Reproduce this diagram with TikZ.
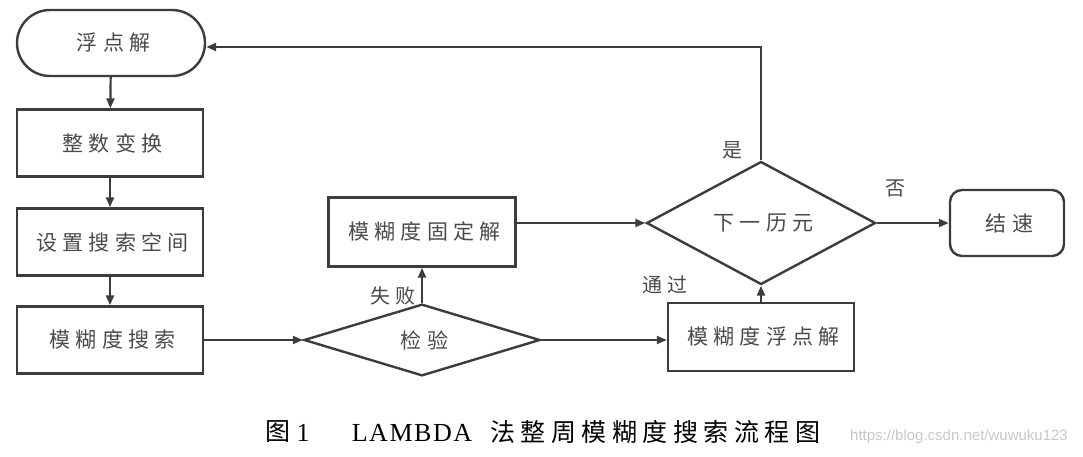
\documentclass[tikz,border=0pt]{standalone}
\usepackage{fontspec}
\setmainfont{Liberation Serif}
\newfontfamily\cjk[LetterSpace=25]{Noto Sans CJK SC}
\newfontfamily\cjkcap[LetterSpace=22]{Noto Sans CJK SC}
\newfontfamily\capfont[LetterSpace=6]{Liberation Serif}
\newfontfamily\wmfont{Liberation Sans}
\usetikzlibrary{shapes.geometric,shapes.misc,arrows.meta}
\definecolor{ln}{HTML}{3C3C3C}
\definecolor{tx}{HTML}{4A4A4A}
\newcommand{\ls}{\kern5pt}
\begin{document}
\begin{tikzpicture}[x=1pt,y=-1pt,
  base/.style={draw=ln, line width=2.4pt, inner sep=0pt, text=tx,
    font=\cjk\fontsize{21}{21}\selectfont},
  box/.style={base, rectangle, minimum width=186pt, minimum height=67pt},
  term/.style={base, rounded rectangle, minimum width=188pt, minimum height=66pt},
  endbox/.style={base, rectangle, rounded corners=12pt, minimum width=114pt, minimum height=66pt},
  dia/.style={base, diamond},
  lbl/.style={inner sep=0pt, text=tx, font=\cjk\fontsize{20}{20}\selectfont},
  captxt/.style={inner sep=0pt, text=black},
  arr/.style={draw=ln, line width=2.2pt, -{Triangle[length=10pt,width=8pt]}}
]
\useasboundingbox (0,0) rectangle (1083,456);

\node[term] (fp) at (111,43) {\ls 浮点解};
\node[box] (zs) at (110,143) {\ls 整数变换};
\node[box] (sz) at (110,242) {\ls 设置搜索空间};
\node[box] (ss) at (110,340) {\ls 模糊度搜索};
\node[dia, minimum width=236pt, minimum height=66pt] (jy) at (422,340) {\ls 检验};
\node[box, minimum width=187pt, minimum height=69pt] (gd) at (422,232) {\ls 模糊度固定解};
\node[box, minimum width=186pt, minimum height=68pt] (fd) at (761,337) {\ls 模糊度浮点解};
\node[dia, minimum width=229pt, minimum height=80pt] (xy) at (761,223) {\ls 下一历元};
\node[endbox] (js) at (1007,223) {\ls 结速};

\node[lbl] (l1) at (390,296) {\ls 失败};
\node[lbl] (l2) at (662,285) {\ls 通过};
\node[lbl] (l3) at (893,188) {\ls 否};
\node[lbl] (l4) at (730,150) {\ls 是};

\coordinate (top) at (761,47);

\draw[arr] (fp) -- (zs);
\draw[arr] (zs) -- (sz);
\draw[arr] (sz) -- (ss);
\draw[arr] (ss.east) -- (jy.west);
\draw[arr] (jy.north) -- (gd.south);
\draw[arr] (jy.east) -- (jy.east -| fd.west);
\draw[arr] (fd.north) -- (xy.south);
\draw[arr] (gd.east |- xy.west) -- (xy.west);
\draw[arr] (xy.east) -- (js.west);
\draw[arr] (xy.north) -- (top) -- (fp.east |- top);

\node[captxt, font=\cjkcap\fontsize{25}{25}\selectfont] (c1) at (278,432) {图};
\node[captxt, font=\fontsize{26}{26}\selectfont] (c2) at (303,433) {1};
\node[captxt, font=\capfont\fontsize{26}{26}\selectfont] (c3) at (412,433) {LAMBDA};
\node[captxt, font=\cjkcap\fontsize{25}{25}\selectfont] (c4) at (655,432) {法整周模糊度搜索流程图};
\node[inner sep=0pt, text=black!22, font=\wmfont\fontsize{15}{15}\selectfont] (wm) at (959,437) {https://blog.csdn.net/wuwuku123};
\end{tikzpicture}
\end{document}
